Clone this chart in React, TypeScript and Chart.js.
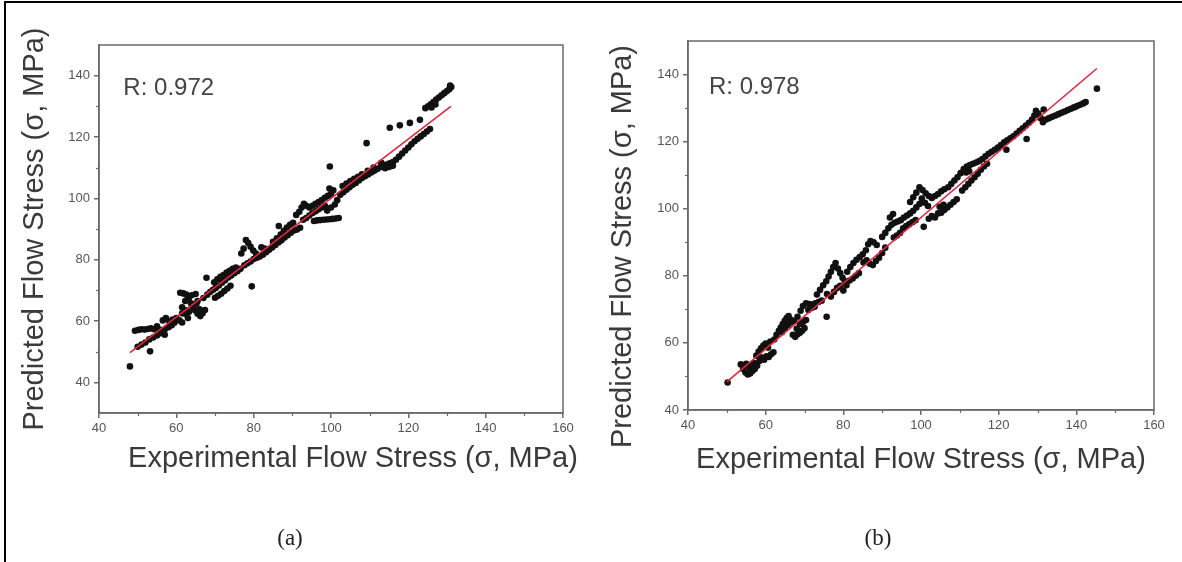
import React, { useEffect, useRef } from 'react';
import { Chart, registerables } from 'chart.js';

Chart.register(...registerables);

// ---------- data ----------
const xTickValues = [40, 60, 80, 100, 120, 140, 160];
const yTickValues = [40, 60, 80, 100, 120, 140];
const xMinorTicks = [50, 70, 90, 110, 130, 150];
const yMinorTicks = [50, 70, 90, 110, 130];

const xTitle = 'Experimental Flow Stress (σ, MPa)';
const yTitle = 'Predicted Flow Stress (σ, MPa)';
const captions = ['(a)', '(b)'];
const rLabels = ['R: 0.972', 'R: 0.978'];

// panel (a): [experimental, predicted]
const pointsA: [number, number][] = [
  [48.0, 45.2],
  [49.3, 56.8], [50.2, 57.1], [51.0, 57.3], [51.8, 57.2], [52.6, 57.4], [53.4, 57.6], [54.2, 57.3], [55.0, 58.3], [55.6, 57.2], [56.3, 56.3], [57.0, 55.5],
  [50.0, 51.6], [51.0, 52.3], [52.0, 53.0], [53.2, 50.1], [53.0, 54.0], [54.0, 54.6], [55.0, 55.3], [56.0, 56.0], [57.0, 57.2], [58.0, 58.0], [58.8, 58.6], [59.5, 59.4],
  [56.5, 60.2], [57.3, 61.0], [58.2, 59.8], [59.0, 60.5], [60.0, 61.0], [60.8, 60.2], [61.5, 59.5],
  [61.0, 69.2], [61.8, 69.0], [62.6, 68.6], [63.2, 67.2], [63.8, 65.8], [64.3, 64.6], [64.9, 63.4], [65.5, 62.4], [66.2, 61.6], [66.8, 62.5], [67.4, 63.6], [66.0, 63.8], [65.2, 65.6], [62.3, 66.5], [61.5, 64.5], [62.5, 62.2], [63.3, 63.0], [64.0, 68.4], [65.0, 68.8], [63.0, 61.0],
  [61.5, 62.5], [62.5, 63.5], [64.0, 65.0], [65.5, 66.5], [67.0, 67.5], [68.0, 68.6],
  [67.8, 74.1], [79.5, 71.3],
  [68.8, 69.5], [69.5, 70.2], [70.2, 70.8], [71.0, 71.6], [71.8, 72.5], [72.6, 73.3], [73.4, 74.2], [74.2, 74.8], [75.0, 75.6], [75.8, 76.2], [76.6, 77.0],
  [69.8, 72.6], [70.6, 73.6], [71.4, 74.4], [72.2, 75.0], [73.0, 75.8], [73.8, 76.4], [74.6, 77.0], [75.4, 77.4],
  [70.0, 67.6], [70.8, 68.2], [71.6, 68.9], [72.4, 69.8], [73.2, 70.6], [74.0, 71.5],
  [76.8, 82.0], [77.4, 83.6], [78.0, 86.4], [78.6, 85.4], [79.2, 84.2], [79.9, 83.0], [80.6, 82.0], [81.4, 81.2], [77.6, 78.2], [78.4, 78.8], [79.2, 79.4], [80.0, 80.2], [80.8, 80.6], [81.6, 81.0], [82.4, 81.6], [83.2, 82.4], [84.0, 83.2], [82.0, 84.0], [82.8, 83.6],
  [84.8, 84.0], [85.6, 84.8], [86.4, 85.6], [87.2, 86.3], [88.0, 87.2], [88.8, 88.0], [89.6, 88.8], [90.4, 89.5], [91.2, 89.8], [92.0, 90.4],
  [85.0, 85.8], [86.0, 87.0], [87.0, 88.2], [87.8, 89.4], [86.5, 91.0], [88.6, 90.5], [89.4, 91.4], [90.2, 92.0],
  [91.0, 94.6], [91.8, 95.6], [92.4, 97.0], [93.0, 98.2], [93.6, 97.6], [94.4, 97.0], [95.2, 97.6], [96.0, 98.2], [96.8, 98.8], [97.6, 99.4], [98.4, 100.2], [99.2, 100.8], [100.0, 101.4], [100.6, 102.6], [99.6, 103.2],
  [92.8, 93.0], [93.6, 93.6], [94.4, 94.4], [95.2, 95.2], [96.0, 95.8], [96.8, 96.4], [97.6, 97.0], [98.4, 97.6],
  [95.6, 92.6], [96.4, 92.8], [97.2, 92.9], [98.0, 93.0], [98.8, 93.1], [99.6, 93.2], [100.4, 93.3], [101.2, 93.4], [102.0, 93.6],
  [99.0, 96.0], [100.0, 97.0], [101.0, 98.0], [101.6, 99.4],
  [102.4, 101.2], [103.2, 102.0], [104.0, 102.8], [104.8, 103.6], [105.6, 104.4], [106.4, 105.0], [107.2, 105.8], [108.0, 106.6], [108.8, 107.2], [109.6, 107.8], [110.4, 108.4], [111.2, 109.0], [112.0, 109.6], [112.8, 110.2], [113.6, 110.6], [114.4, 111.0], [115.2, 111.4], [116.0, 111.8], [116.8, 112.6], [117.6, 113.6], [118.4, 114.6], [119.2, 115.6], [120.0, 116.6], [120.8, 117.6], [121.6, 118.6], [122.4, 119.4], [123.2, 120.2], [124.0, 121.0], [124.8, 121.8], [125.6, 122.6],
  [103.0, 104.0], [104.0, 104.8], [105.0, 105.6], [106.0, 106.4], [107.0, 107.0], [108.0, 107.8], [109.5, 109.0], [111.0, 110.0], [113.0, 111.6], [114.0, 109.8], [115.0, 110.2], [116.0, 110.6],
  [99.7, 110.4], [109.2, 118.0],
  [115.2, 123.0], [117.8, 123.8], [120.4, 124.6], [123.0, 125.6],
  [124.4, 129.4], [125.1, 130.0], [125.8, 130.7], [126.5, 131.4], [127.2, 132.2], [127.9, 132.9], [128.6, 133.6], [129.3, 134.3], [130.0, 135.0], [130.6, 135.6], [131.1, 136.3], [130.8, 136.8], [126.0, 129.6], [127.0, 130.6],
];
const fitA: [number, number][] = [[48, 49.7], [131, 130]];

// panel (b): [experimental, predicted]
const pointsB: [number, number][] = [
  [50.2, 48.2],
  [53.6, 53.6], [54.2, 52.2], [54.8, 51.2], [55.4, 50.6], [56.0, 50.9], [56.6, 51.6], [57.2, 52.2], [55.0, 53.8], [55.8, 52.6], [56.4, 53.4], [57.0, 54.0], [57.8, 53.2], [58.4, 54.6], [59.0, 55.6], [59.6, 55.0], [60.2, 56.0], [60.8, 55.8], [61.4, 56.6], [62.0, 57.2], [57.6, 56.2], [58.2, 57.4], [58.8, 58.4], [59.4, 59.2], [60.0, 59.8], [60.6, 58.6], [61.2, 60.4],
  [62.2, 61.0], [62.8, 62.4], [63.4, 63.6], [63.9, 64.6], [64.4, 65.6], [64.9, 66.6], [65.4, 67.4], [65.9, 68.0], [66.4, 67.0], [64.2, 63.2], [65.0, 64.4], [65.8, 65.4], [66.6, 66.2],
  [67.0, 62.4], [67.6, 61.8], [68.2, 62.6], [68.8, 63.0], [69.4, 63.6], [70.0, 64.4], [68.0, 64.2], [68.8, 65.6], [69.6, 66.2], [70.4, 66.8],
  [67.4, 66.6], [68.2, 67.8], [69.0, 69.6], [69.6, 71.0], [70.4, 71.8], [71.2, 71.6], [72.0, 71.4], [72.8, 71.8], [73.6, 72.2], [74.4, 72.6], [71.0, 69.8], [71.8, 70.4], [72.6, 70.8],
  [75.7, 67.8],
  [73.2, 74.4], [74.0, 75.8], [74.8, 77.2], [75.6, 78.4], [76.2, 79.8], [76.8, 81.2], [77.4, 82.6], [78.0, 83.8], [78.6, 82.2], [79.2, 80.8], [79.8, 79.4], [80.4, 78.4],
  [75.8, 74.6], [76.8, 73.8], [77.6, 75.2], [78.4, 76.4], [79.2, 77.0], [80.0, 75.6], [80.8, 77.2], [81.6, 78.6], [82.4, 79.2], [83.2, 80.0], [84.0, 80.8],
  [81.0, 81.2], [81.8, 82.6], [82.6, 83.8], [83.4, 84.8], [84.2, 85.6], [85.0, 86.4], [85.8, 87.6], [86.4, 89.4], [87.0, 90.4], [87.8, 90.0], [88.6, 89.2],
  [85.2, 84.0], [86.0, 84.6], [86.8, 83.6], [87.6, 83.2], [88.4, 84.4], [89.2, 85.4], [90.0, 86.8], [90.8, 88.4],
  [90.0, 91.6], [90.8, 92.8], [91.6, 94.2], [92.4, 95.2], [93.2, 95.8], [94.0, 96.2], [94.8, 96.6], [95.6, 97.4], [96.4, 98.0], [97.2, 98.6], [98.0, 99.4], [98.8, 100.4], [99.6, 101.4], [92.0, 97.4], [92.8, 98.4],
  [97.2, 102.0], [98.0, 103.4], [98.8, 104.8], [99.6, 106.4], [100.4, 105.6], [101.2, 104.6], [102.0, 103.8], [102.8, 103.2], [103.6, 103.8], [104.4, 104.4], [105.2, 105.2], [106.0, 105.8], [100.2, 103.0], [101.0, 101.8], [101.8, 100.8],
  [93.0, 91.4], [93.8, 92.0], [94.6, 92.8], [95.4, 94.2], [96.2, 94.8], [97.0, 95.4], [97.8, 96.0], [98.6, 96.6], [100.7, 94.6], [102.0, 97.0], [102.8, 97.8], [103.6, 97.4], [104.4, 98.6], [105.2, 98.8], [106.0, 99.6], [106.8, 100.4], [107.6, 101.2], [108.4, 102.0], [109.2, 102.8], [104.8, 100.6], [105.8, 101.2],
  [107.0, 106.4], [107.8, 107.4], [108.6, 108.4], [109.4, 109.4], [110.2, 110.6], [111.0, 111.8], [111.8, 112.6], [112.6, 113.0], [113.4, 113.4], [114.2, 113.8], [115.0, 114.2], [115.8, 114.8], [116.6, 115.6], [117.4, 116.4], [118.2, 117.0], [119.0, 117.6], [119.8, 118.2], [120.6, 119.0], [121.4, 119.8], [122.2, 120.4], [123.0, 121.0], [123.8, 121.6],
  [110.6, 105.4], [111.4, 106.4], [112.2, 107.4], [113.0, 108.4], [113.8, 109.4], [114.6, 110.4], [115.4, 111.6], [116.2, 112.6], [117.0, 113.4], [111.6, 110.8], [112.4, 111.2],
  [122.0, 117.6], [127.2, 120.8],
  [124.6, 122.4], [125.4, 123.2], [126.2, 124.0], [127.0, 124.8], [127.8, 125.6], [128.6, 126.6], [129.2, 127.8], [129.6, 129.2], [130.2, 128.4], [130.8, 127.0], [131.4, 125.8], [132.2, 126.6], [133.0, 127.0], [133.8, 127.4], [134.6, 127.8], [135.4, 128.2], [136.2, 128.6], [137.0, 129.0], [137.8, 129.4], [138.6, 129.8], [139.4, 130.2], [140.2, 130.6], [141.0, 131.0], [141.8, 131.4], [142.4, 131.8], [131.6, 129.6],
  [145.3, 135.8],
];
const fitB: [number, number][] = [[50, 48.4], [145.3, 141.8]];

// ---------- styling ----------
const FONT = '"Liberation Sans", Arial, Helvetica, sans-serif';
const AXIS_COLOR = '#6a6a6a';
const TICK_COLOR = '#555555';
const TITLE_COLOR = '#3a3a3a';
const POINT_COLOR = '#111111';
const FIT_COLOR = '#e3243b';

const framePlugin = {
  id: 'frame',
  afterDraw(chart: any, _args: any, opts: any) {
    const { ctx, chartArea: a, scales } = chart;
    ctx.save();
    ctx.strokeStyle = AXIS_COLOR;
    ctx.lineWidth = 1.5;
    ctx.strokeRect(a.left, a.top, a.right - a.left, a.bottom - a.top);
    ctx.lineWidth = 1.2;
    (opts.xMinor || []).forEach((v: number) => {
      const px = Math.round(scales.x.getPixelForValue(v)) + 0.5;
      ctx.beginPath();
      ctx.moveTo(px, a.bottom);
      ctx.lineTo(px, a.bottom + 3);
      ctx.stroke();
    });
    (opts.yMinor || []).forEach((v: number) => {
      const py = Math.round(scales.y.getPixelForValue(v)) + 0.5;
      ctx.beginPath();
      ctx.moveTo(a.left, py);
      ctx.lineTo(a.left - 3, py);
      ctx.stroke();
    });
    // correlation label
    ctx.fillStyle = '#444444';
    ctx.font = `24px ${FONT}`;
    ctx.textAlign = 'left';
    ctx.textBaseline = 'middle';
    ctx.fillText(opts.label, scales.x.getPixelForValue(opts.lx), scales.y.getPixelForValue(opts.ly));
    // axis titles
    ctx.fillStyle = TITLE_COLOR;
    ctx.font = `29px ${FONT}`;
    ctx.textAlign = 'center';
    ctx.textBaseline = 'middle';
    ctx.fillText(opts.xTitle, (a.left + a.right) / 2 + opts.xdx, opts.xcy);
    ctx.save();
    ctx.translate(opts.ycx, (a.top + a.bottom) / 2 + opts.ydy);
    ctx.rotate(-Math.PI / 2);
    ctx.fillText(opts.yTitle, 0, 0);
    ctx.restore();
    ctx.restore();
  },
};

type PanelProps = {
  left: number;
  width: number;
  points: [number, number][];
  fit: [number, number][];
  yMin: number;
  label: string;
  labelPos: [number, number];
  padLeft: number;
  padTop: number;
  padRight: number;
  padBottom: number;
  yAxisW: number;
  xAxisH: number;
  xdx: number;
  xcy: number;
  ycx: number;
  ydy: number;
};

function Panel(p: PanelProps) {
  const ref = useRef<HTMLCanvasElement | null>(null);
  useEffect(() => {
    if (!ref.current) return;
    const chart = new Chart(ref.current, {
      type: 'scatter',
      data: {
        datasets: [
          {
            type: 'line',
            data: p.fit.map(([x, y]) => ({ x, y })),
            borderColor: FIT_COLOR,
            borderWidth: 1.6,
            pointRadius: 0,
            showLine: true,
            fill: false,
          } as any,
          {
            data: p.points.map(([x, y]) => ({ x, y })),
            backgroundColor: POINT_COLOR,
            borderColor: POINT_COLOR,
            borderWidth: 0,
            pointRadius: 3.3,
          },
        ],
      },
      options: {
        animation: false,
        responsive: false,
        events: [],
        layout: { padding: { left: p.padLeft, top: p.padTop, right: p.padRight, bottom: p.padBottom } },
        plugins: {
          legend: { display: false },
          tooltip: { enabled: false },
          frame: {
            label: p.label, lx: p.labelPos[0], ly: p.labelPos[1],
            xMinor: xMinorTicks, yMinor: yMinorTicks,
            xTitle, yTitle, xdx: p.xdx, xcy: p.xcy, ycx: p.ycx, ydy: p.ydy,
          },
        } as any,
        scales: {
          x: {
            type: 'linear',
            min: 40,
            max: 160,
            afterBuildTicks: (s: any) => { s.ticks = xTickValues.map((v) => ({ value: v })); },
            afterFit: (s: any) => { s.height = p.xAxisH; },
            ticks: { autoSkip: false, maxRotation: 0, color: TICK_COLOR, font: { size: 13, family: FONT }, padding: 3 },
            grid: { drawOnChartArea: false, drawTicks: true, tickLength: 5, color: AXIS_COLOR, lineWidth: 1.5 },
            border: { display: true, color: AXIS_COLOR, width: 1.5 },
            title: { display: false, text: xTitle },
          },
          y: {
            type: 'linear',
            min: p.yMin,
            max: 150,
            afterBuildTicks: (s: any) => { s.ticks = yTickValues.map((v) => ({ value: v })); },
            afterFit: (s: any) => { s.width = p.yAxisW; },
            ticks: { autoSkip: false, color: TICK_COLOR, font: { size: 13, family: FONT }, padding: 4 },
            grid: { drawOnChartArea: false, drawTicks: true, tickLength: 5, color: AXIS_COLOR, lineWidth: 1.5 },
            border: { display: true, color: AXIS_COLOR, width: 1.5 },
            title: { display: false, text: yTitle },
          },
        },
      } as any,
      plugins: [framePlugin as any],
    });
    return () => chart.destroy();
  }, []);
  return (
    <canvas
      ref={ref}
      width={p.width}
      height={562}
      style={{ position: 'absolute', left: p.left, top: 0, width: p.width, height: 562 }}
    />
  );
}

export default function App() {
  const capStyle = (x: number): React.CSSProperties => ({
    position: 'absolute',
    left: x,
    top: 524,
    transform: 'translateX(-50%)',
    font: '23px "Liberation Serif", "Times New Roman", serif',
    lineHeight: '28px',
    color: '#222',
  });
  return (
    <div style={{ position: 'fixed', left: 0, top: 0, width: 1182, height: 562, background: '#fff', overflow: 'hidden' }}>
      <div style={{ position: 'absolute', left: 4, top: 1, right: -10, bottom: -10, borderTop: '2px solid #000', borderLeft: '2px solid #000' }} />
      <Panel left={0} width={590} points={pointsA} fit={fitA} yMin={30} label={rLabels[0]} labelPos={[46.3, 136]}
        padLeft={18} padTop={45} padRight={27} padBottom={87} yAxisW={81} xAxisH={62}
        xdx={22} xcy={459} ycx={35} ydy={0} />
      <Panel left={590} width={592} points={pointsB} fit={fitB} yMin={40} label={rLabels[1]} labelPos={[45.4, 136.2]}
        padLeft={15} padTop={41} padRight={28} padBottom={87} yAxisW={83} xAxisH={65}
        xdx={0} xcy={460} ycx={33} ydy={21} />
      <div style={capStyle(290)}>{captions[0]}</div>
      <div style={capStyle(878)}>{captions[1]}</div>
    </div>
  );
}
